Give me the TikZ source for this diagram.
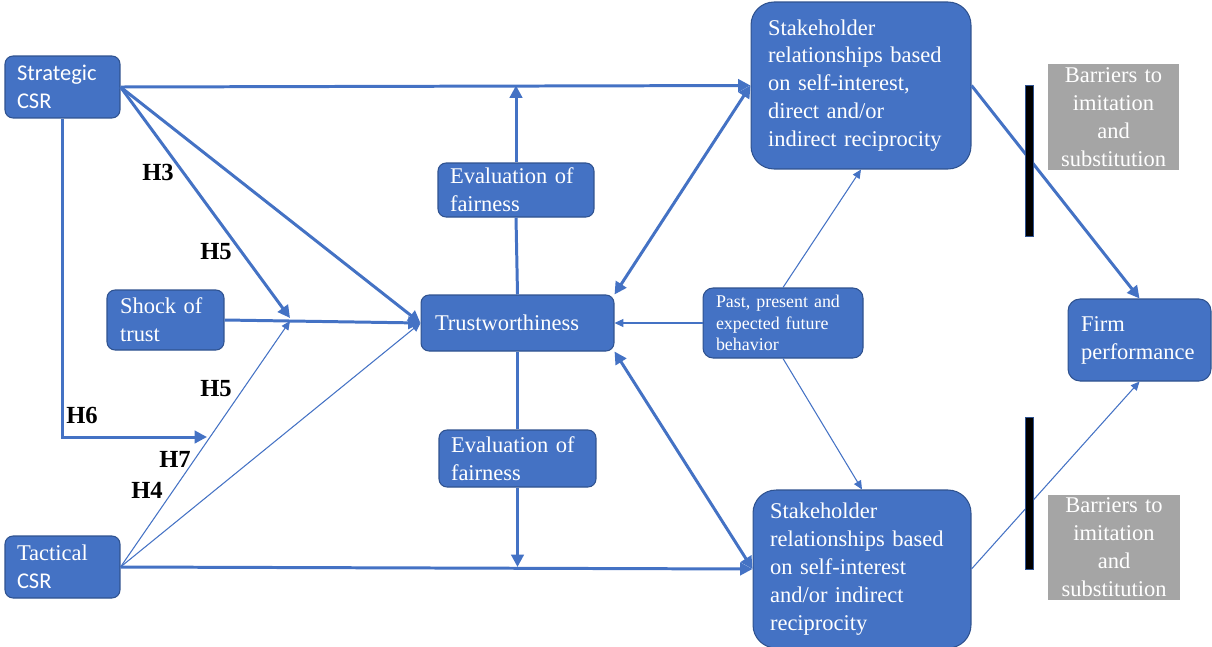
\documentclass[tikz,border=0pt]{standalone}
\usepackage{fontspec}
\setmainfont{Liberation Serif}
\newfontfamily\calibri{Carlito}
\usepackage{tikz}
\usetikzlibrary{arrows.meta}
\definecolor{boxblue}{HTML}{4472C4}
\definecolor{edgeblue}{HTML}{2F528F}
\definecolor{barrgray}{HTML}{A5A5A5}

\begin{document}
\begin{tikzpicture}[x=0.02cm, y=-0.02cm]
	\tikzstyle{every node} = [inner ysep=0pt, font=\fontsize{12.8}{15.9}\selectfont]
	\tikzstyle{blue box} = [fill=boxblue, draw=edgeblue, line width=0.6pt, text=white, rounded corners=0.16cm, align=left]
	\tikzstyle{gray box} = [fill=barrgray, draw=white, line width=0.6pt, text=white, align=center]
	\tikzstyle{bar} = [fill=black, draw=edgeblue, line width=0.5pt, minimum width=0.16cm, inner sep=0pt]
	\tikzstyle{hlabel} = [font=\bfseries\fontsize{14}{16}\selectfont]
	\tikzstyle{bigarrow} = [draw=boxblue, line width=1.7pt, -{Triangle[length=7pt,width=7pt]}]
	\tikzstyle{bigline} = [draw=boxblue, line width=1.7pt]
	\tikzstyle{bothways} = [draw=boxblue, line width=1.7pt, {Triangle[length=7pt,width=7pt]}-{Triangle[length=7pt,width=7pt]}]
	\tikzstyle{thinarrow} = [draw=boxblue, line width=0.6pt, -{Triangle[length=5pt,width=4.5pt]}]
	\useasboundingbox (0,0) rectangle (1212,646);

	% boxes
	\node [blue box, minimum width=2.3cm, minimum height=1.24cm, inner xsep=0.24cm, text width=1.82cm, font=\calibri\fontsize{12.8}{15.9}\selectfont] (strat) at (62.5, 87) {Strategic\\CSR};
	\node [blue box, minimum width=2.3cm, minimum height=1.24cm, inner xsep=0.24cm, text width=1.82cm, font=\calibri\fontsize{12.8}{15.9}\selectfont] (tact) at (62.5, 567) {{\rmfamily Tactical}\\CSR};
	\node [blue box, minimum width=2.34cm, minimum height=1.2cm, inner xsep=0.26cm, text width=1.82cm] (shock) at (165.5, 320) {Shock of\\trust};
	\node [blue box, minimum width=3.86cm, minimum height=1.12cm, inner xsep=0.28cm, text width=3.3cm] (trust) at (517.5, 323) {Trustworthiness};
	\node [blue box, minimum width=3.12cm, minimum height=1.08cm, inner xsep=0.24cm, text width=2.64cm] (evalA) at (516, 190) {Evaluation of\\fairness};
	\node [blue box, minimum width=3.14cm, minimum height=1.14cm, inner xsep=0.24cm, text width=2.66cm] (evalB) at (517.5, 458.5) {Evaluation of\\fairness};
	\node [blue box, rounded corners=0.46cm, minimum width=4.4cm, minimum height=3.34cm, inner xsep=0.34cm, text width=3.72cm] (stakeA) at (861, 85.5) {Stakeholder\\relationships based\\on self-interest,\\direct and/or\\indirect reciprocity};
	\node [blue box, rounded corners=0.46cm, minimum width=4.36cm, minimum height=3.16cm, inner xsep=0.34cm, text width=3.68cm] (stakeB) at (862, 569) {Stakeholder\\relationships based\\on self-interest\\and/or indirect\\reciprocity};
	\node [blue box, rounded corners=0.2cm, minimum width=3.2cm, minimum height=1.4cm, inner xsep=0.26cm, text width=2.68cm, font=\fontsize{10.2}{12.2}\selectfont] (past) at (783, 323) {Past, present and\\expected future\\behavior};
	\node [blue box, rounded corners=0.24cm, minimum width=2.86cm, minimum height=1.64cm, inner xsep=0.26cm, text width=2.34cm] (firm) at (1139.5, 340) {Firm\\performance};
	\node [gray box, minimum width=2.66cm, minimum height=2.16cm, text width=2.4cm] (barrA) at (1113.5, 117) {Barriers to\\imitation\\and\\substitution};
	\node [gray box, minimum width=2.68cm, minimum height=2.14cm, text width=2.4cm] (barrB) at (1114, 547.5) {Barriers to\\imitation\\and\\substitution};
	\coordinate (jn) at (290, 318);
	\coordinate (h6tip) at (207, 437);

	% hypothesis labels
	\node [hlabel] (h3) at (158, 172) {H3};
	\node [hlabel] (h5a) at (216, 252) {H5};
	\node [hlabel] (h5b) at (216, 389) {H5};
	\node [hlabel] (h6) at (82, 415) {H6};
	\node [hlabel] (h7) at (175, 459) {H7};
	\node [hlabel] (h4) at (147, 490) {H4};

	% connectors
	\draw [bigarrow] (strat.east)--(stakeA.west);
	\draw [bigarrow] (strat.east)--(trust.west);
	\draw [bigarrow] (strat.east)--(jn);
	\draw [bigarrow] (strat.south) |- (h6tip);
	\draw [bigarrow] (shock.east)--(trust.west);
	\draw [thinarrow] (tact.east)--([yshift=-0.06cm]jn);
	\draw [thinarrow] (tact.east)--(trust.west);
	\draw [bigarrow] (tact.east)--(stakeB.west);
	\draw [bigline] (trust.north)--(evalA.south);
	\draw [bigarrow] (evalA.north)--(evalA.north |- stakeA.west);
	\draw [bigline] (trust.south)--(evalB.north);
	\draw [bigarrow] (evalB.south)--(evalB.south |- tact.east);
	\draw [bothways] (trust.north east)--(stakeA.west);
	\draw [bothways] (trust.south east)--(stakeB.west);
	\draw [thinarrow] (past.west)--(trust.east);
	\draw [thinarrow] (past.north)--(stakeA.south);
	\draw [thinarrow] (past.south)--(stakeB.north);
	\draw [bigarrow] (stakeA.east)--(firm.north);
	\draw [thinarrow] (stakeB.east)--(firm.south);

	% barriers
	\node [bar, minimum height=3.02cm] (barA) at (1029, 160.5) {};
	\node [bar, minimum height=3.04cm] (barB) at (1029, 493) {};
\end{tikzpicture}
\end{document}
